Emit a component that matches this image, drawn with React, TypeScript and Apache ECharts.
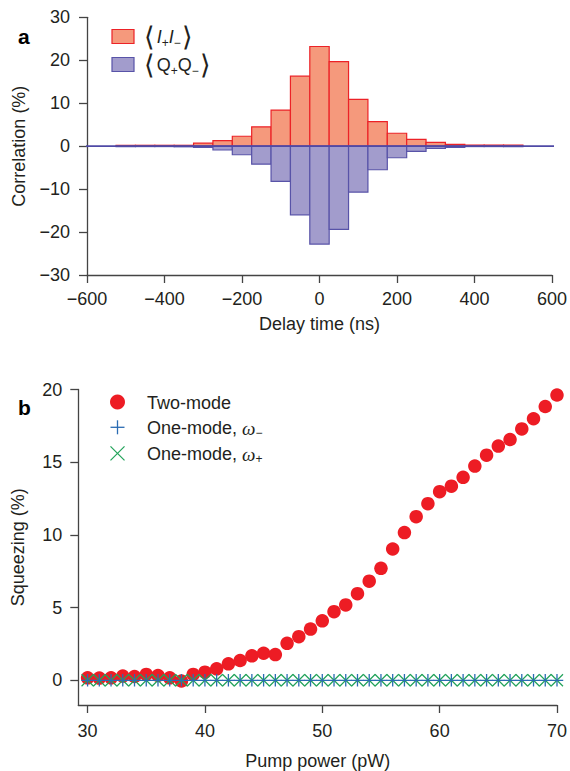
import { useEffect, useRef } from 'react';
import * as echarts from 'echarts';

// ---------- Panel a: histogram of correlations ----------
const delayBins = [-500, -450, -400, -350, -300, -250, -200, -150, -100, -50, 0, 50, 100, 150, 200, 250, 300, 350, 400, 450, 500];
const iiCorr = [0.2, 0.2, 0.2, 0.2, 0.7, 1.3, 2.3, 4.5, 8.4, 16.3, 23.2, 19.7, 10.9, 5.7, 3.0, 1.6, 0.9, 0.4, 0.25, 0.25, 0.25];
const qqCorr = [-0.1, -0.1, -0.1, -0.15, -0.3, -0.9, -2.0, -4.2, -8.2, -16.0, -22.8, -19.4, -10.7, -5.5, -2.7, -1.2, -0.5, -0.3, -0.1, -0.1, -0.1];
const binWidth = 50;
const delayTicks = [-600, -400, -200, 0, 200, 400, 600];
const corrTicks = [-30, -20, -10, 0, 10, 20, 30];

// ---------- Panel b: squeezing vs pump power ----------
const pumpPower = [30, 31, 32, 33, 34, 35, 36, 37, 38, 39, 40, 41, 42, 43, 44, 45, 46, 47, 48, 49, 50, 51, 52, 53, 54, 55, 56, 57, 58, 59, 60, 61, 62, 63, 64, 65, 66, 67, 68, 69, 70];
const twoMode = [0.17, 0.15, 0.17, 0.29, 0.26, 0.4, 0.33, 0.17, -0.05, 0.4, 0.56, 0.79, 1.13, 1.36, 1.68, 1.86, 1.77, 2.54, 3.0, 3.52, 4.09, 4.72, 5.18, 5.96, 6.82, 7.7, 9.03, 10.16, 11.25, 12.15, 12.97, 13.35, 13.96, 14.73, 15.48, 16.11, 16.56, 17.29, 17.99, 18.83, 19.62];
const oneModeMinus = [0, 0, 0, 0, 0, 0, 0, 0, 0, 0, 0, 0, 0, 0, 0, 0, 0, 0, 0, 0, 0, 0, 0, 0, 0, 0, 0, 0, 0, 0, 0, 0, 0, 0, 0, 0, 0, 0, 0, 0, 0];
const oneModePlus = [0, 0, 0, 0, 0, 0, 0, 0, 0, 0, 0, 0, 0, 0, 0, 0, 0, 0, 0, 0, 0, 0, 0, 0, 0, 0, 0, 0, 0, 0, 0, 0, 0, 0, 0, 0, 0, 0, 0, 0, 0];
const powerTicks = [30, 40, 50, 60, 70];
const squeezeTicks = [0, 5, 10, 15, 20];

const FONT = '"Liberation Sans", Arial, Helvetica, sans-serif';
const FS = 18;
const TXT = '#231f20';
const AXIS = '#444444';
const RED_FILL = '#F5997C';
const RED_EDGE = '#EC2227';
const BLUE_FILL = '#A29CCC';
const BLUE_EDGE = '#5853A8';
const DOT_RED = '#ED1C24';
const PLUS_BLUE = '#2B6CB3';
const CROSS_GREEN = '#22A35A';

const fmt = (v: number) => String(v).replace('-', '\u2212');

function barSeries(values: number[], fill: string, edge: string) {
  return {
    type: 'custom',
    xAxisIndex: 0,
    yAxisIndex: 0,
    data: delayBins.map((b, i) => [b, values[i]]),
    renderItem: (_p: any, api: any) => {
      const c = api.value(0);
      const v = api.value(1);
      const a = api.coord([c - binWidth / 2, 0]);
      const b = api.coord([c + binWidth / 2, v]);
      return {
        type: 'rect',
        shape: {
          x: a[0],
          y: Math.min(a[1], b[1]),
          width: b[0] - a[0],
          height: Math.abs(b[1] - a[1]),
        },
        style: { fill, stroke: edge, lineWidth: 1.2 },
      };
    },
  };
}

const axisCommon = {
  axisLine: { show: true, onZero: false, lineStyle: { color: AXIS, width: 1.3 } },
  axisTick: { show: true, length: 8, lineStyle: { color: AXIS, width: 1.3 } },
  splitLine: { show: false },
  axisLabel: { color: TXT, fontSize: FS, fontFamily: FONT, formatter: fmt },
  nameTextStyle: { color: TXT, fontSize: FS, fontFamily: FONT },
};

const bracketRich = {
  br: { fontFamily: '"DejaVu Sans"', fontWeight: 200, fontSize: 27, lineHeight: 24, fill: TXT },
  it: { fontFamily: FONT, fontStyle: 'italic', fontSize: FS, lineHeight: 24, fill: TXT },
  q: { fontFamily: FONT, fontSize: FS, lineHeight: 24, fill: TXT },
  sub: { fontFamily: FONT, fontSize: 12, lineHeight: 8, verticalAlign: 'bottom', fill: TXT },
  sp: { fontFamily: FONT, fontSize: 6, lineHeight: 24, fill: TXT },
};

const omegaRich = {
  w: { fontFamily: '"Liberation Serif", serif', fontStyle: 'italic', fontSize: 19, lineHeight: 22, fill: TXT },
  sub: { fontFamily: FONT, fontSize: 12, lineHeight: 8, verticalAlign: 'bottom', fill: TXT },
};

export default function App() {
  const ref = useRef<HTMLDivElement>(null);
  useEffect(() => {
    if (!ref.current) return;
    const chart = echarts.init(ref.current, undefined, { renderer: 'svg' });
    const option: any = {
      animation: false,
      backgroundColor: '#ffffff',
      grid: [
        { left: 87, top: 17.3, width: 467, height: 257.7 },
        { left: 78.3, top: 389.5, width: 483, height: 319 },
      ],
      xAxis: [
        {
          ...axisCommon,
          type: 'value',
          gridIndex: 0,
          min: delayTicks[0],
          max: delayTicks[delayTicks.length - 1],
          interval: 200,
          axisLabel: { ...axisCommon.axisLabel, margin: 15 },
          name: 'Delay time (ns)',
          nameLocation: 'middle',
          nameGap: 40,
        },
        {
          ...axisCommon,
          type: 'value',
          gridIndex: 1,
          min: 29.21,
          max: 70,
          axisTick: { ...axisCommon.axisTick, customValues: powerTicks },
          axisLabel: { ...axisCommon.axisLabel, margin: 17, customValues: powerTicks },
          name: 'Pump power (pW)',
          nameLocation: 'middle',
          nameGap: 47,
        },
      ],
      yAxis: [
        {
          ...axisCommon,
          type: 'value',
          gridIndex: 0,
          min: corrTicks[0],
          max: corrTicks[corrTicks.length - 1],
          interval: 10,
          axisLabel: { ...axisCommon.axisLabel, margin: 17 },
          name: 'Correlation (%)',
          nameLocation: 'middle',
          nameGap: 59,
        },
        {
          ...axisCommon,
          type: 'value',
          gridIndex: 1,
          min: -1.7,
          max: 20,
          axisTick: { ...axisCommon.axisTick, customValues: squeezeTicks },
          axisLabel: { ...axisCommon.axisLabel, margin: 16, customValues: squeezeTicks },
          name: 'Squeezing (%)',
          nameLocation: 'middle',
          nameGap: 51,
        },
      ],
      series: [
        barSeries(iiCorr, RED_FILL, RED_EDGE),
        barSeries(qqCorr, BLUE_FILL, BLUE_EDGE),
        {
          type: 'line',
          xAxisIndex: 0,
          yAxisIndex: 0,
          data: [[-625, 0], [632, 0]],
          clip: false,
          symbol: 'none',
          lineStyle: { color: '#4F4AA6', width: 1.6 },
          z: 5,
        },
        {
          type: 'scatter',
          xAxisIndex: 1,
          yAxisIndex: 1,
          data: pumpPower.map((p, i) => [p, twoMode[i]]),
          symbol: 'circle',
          symbolSize: 13.5,
          itemStyle: { color: DOT_RED, opacity: 1 },
          clip: false,
        },
        {
          type: 'scatter',
          xAxisIndex: 1,
          yAxisIndex: 1,
          data: pumpPower.map((p, i) => [p, oneModePlus[i]]),
          symbol: 'path://M0,0L10,10M10,0L0,10',
          symbolSize: 12,
          itemStyle: { color: 'none', borderColor: CROSS_GREEN, borderWidth: 1.2, opacity: 1 },
          clip: false,
        },
        {
          type: 'scatter',
          xAxisIndex: 1,
          yAxisIndex: 1,
          data: pumpPower.map((p, i) => [p, oneModeMinus[i]]),
          symbol: 'path://M0,5L10,5M5,0L5,10',
          symbolSize: 12.5,
          itemStyle: { color: 'none', borderColor: PLUS_BLUE, borderWidth: 1.3, opacity: 1 },
          clip: false,
        },
      ],
      graphic: [
        // panel letters
        { type: 'text', x: 18, y: 26, style: { text: 'a', font: `bold 21px ${FONT}`, fill: '#000', verticalAlign: 'alphabetic' } },
        { type: 'text', x: 18, y: 397, style: { text: 'b', font: `bold 21px ${FONT}`, fill: '#000', verticalAlign: 'alphabetic' } },
        // legend panel a
        { type: 'rect', shape: { x: 112, y: 29.5, width: 22, height: 14 }, style: { fill: RED_FILL, stroke: RED_EDGE, lineWidth: 1.2 } },
        { type: 'rect', shape: { x: 112, y: 57.5, width: 22, height: 14 }, style: { fill: BLUE_FILL, stroke: BLUE_EDGE, lineWidth: 1.2 } },
        {
          type: 'text', x: 144, y: 36.5,
          style: {
            text: '{br|\u27E8}{sp| }{it|I}{sub|+}{it|I}{sub|\u2212}{sp| }{br|\u27E9}',
            verticalAlign: 'middle',
            fill: TXT,
            rich: bracketRich,
          },
        },
        {
          type: 'text', x: 144, y: 64.5,
          style: {
            text: '{br|\u27E8}{sp| }{q|Q}{sub|+}{q|Q}{sub|\u2212}{sp| }{br|\u27E9}',
            verticalAlign: 'middle',
            fill: TXT,
            rich: bracketRich,
          },
        },
        // legend panel b
        { type: 'circle', shape: { cx: 117.5, cy: 402, r: 7.5 }, style: { fill: DOT_RED } },
        { type: 'line', shape: { x1: 110.5, y1: 427.3, x2: 124.5, y2: 427.3 }, style: { stroke: PLUS_BLUE, lineWidth: 1.3 } },
        { type: 'line', shape: { x1: 117.5, y1: 420.3, x2: 117.5, y2: 434.3 }, style: { stroke: PLUS_BLUE, lineWidth: 1.3 } },
        { type: 'line', shape: { x1: 110.5, y1: 446.3, x2: 124.5, y2: 460.3 }, style: { stroke: CROSS_GREEN, lineWidth: 1.2 } },
        { type: 'line', shape: { x1: 124.5, y1: 446.3, x2: 110.5, y2: 460.3 }, style: { stroke: CROSS_GREEN, lineWidth: 1.2 } },
        { type: 'text', x: 147, y: 403, style: { text: 'Two-mode', font: `${FS}px ${FONT}`, fill: TXT, verticalAlign: 'middle' } },
        {
          type: 'text', x: 147, y: 428,
          style: { text: 'One-mode, {w|\u03C9}{sub|\u2212}', font: `${FS}px ${FONT}`, fill: TXT, verticalAlign: 'middle', rich: omegaRich },
        },
        {
          type: 'text', x: 147, y: 454,
          style: { text: 'One-mode, {w|\u03C9}{sub|+}', font: `${FS}px ${FONT}`, fill: TXT, verticalAlign: 'middle', rich: omegaRich },
        },
      ],
    };
    chart.setOption(option);
    return () => chart.dispose();
  }, []);
  return <div ref={ref} style={{ position: 'fixed', left: 0, top: 0, width: 570, height: 771 }} />;
}
